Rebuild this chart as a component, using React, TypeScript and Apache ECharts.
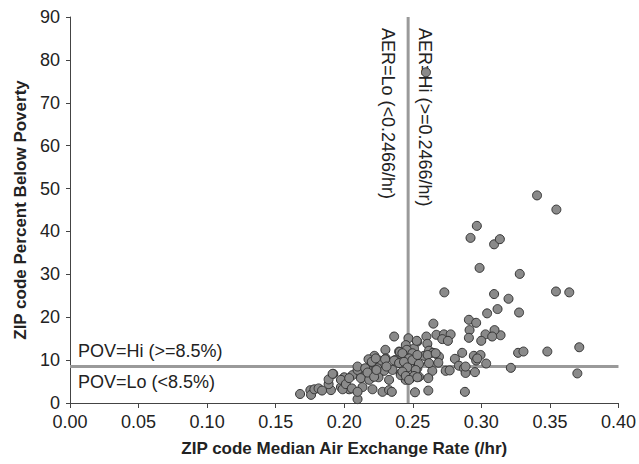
import { useEffect, useRef } from "react";
import * as echarts from "echarts";

// ZIP code median air exchange rate (/hr)
const aerRates = [
  0.2967, 0.2921, 0.3093, 0.3135, 0.2987, 0.273, 0.3093, 0.3042, 0.3118, 0.2909,
  0.3406, 0.3547, 0.328, 0.3198, 0.3275, 0.3544, 0.3641, 0.314, 0.3268, 0.3307,
  0.3481, 0.3714, 0.3215, 0.37, 0.2962, 0.265, 0.2914, 0.3096, 0.303, 0.3079,
  0.2999, 0.2909, 0.2672, 0.2727, 0.2776, 0.2715, 0.2756, 0.2599, 0.2533, 0.2468,
  0.2606, 0.2449, 0.2509, 0.24, 0.2618, 0.2647, 0.2582, 0.2691, 0.286, 0.2807,
  0.2945, 0.2994, 0.2962, 0.3035, 0.2836, 0.2873, 0.2642, 0.274, 0.2769, 0.2885,
  0.2953, 0.2613, 0.2516, 0.2613, 0.288, 0.2364, 0.2529, 0.23, 0.2405, 0.2456,
  0.2497, 0.222, 0.2303, 0.2255, 0.2371, 0.2436, 0.2509, 0.2194, 0.2608, 0.2667,
  0.2618, 0.192, 0.2, 0.206, 0.2133, 0.217, 0.2242, 0.2291, 0.225, 0.2327,
  0.2352, 0.2412, 0.2461, 0.2485, 0.2533, 0.2545, 0.2448, 0.2097, 0.1976, 0.2036,
  0.2133, 0.2206, 0.2279, 0.2327, 0.2097, 0.1903, 0.2885, 0.297, 0.1678, 0.1753,
  0.1758, 0.1782, 0.1813, 0.1838, 0.1886, 0.1886, 0.1915, 0.1976, 0.1988, 0.2012,
  0.2036, 0.2056, 0.2097, 0.2097, 0.2121, 0.2153, 0.2182, 0.217, 0.2218, 0.2235,
  0.2347, 0.2177, 0.2201, 0.223, 0.2298, 0.2308, 0.2364, 0.24, 0.2412, 0.2424,
  0.2473, 0.2436, 0.2497, 0.2533, 0.2545, 0.2461, 0.2521, 0.2424, 0.2449, 0.2509,
  0.2473, 0.2533, 0.2686, 0.2596,
];

// ZIP code percent of residents below poverty
const povertyPct = [
  41.3, 38.5, 37.0, 38.2, 31.5, 25.8, 25.4, 20.9, 21.9, 19.4,
  48.4, 45.1, 30.1, 24.3, 21.1, 26.0, 25.8, 15.8, 11.7, 12.0,
  12.0, 13.0, 8.2, 6.9, 18.7, 18.5, 17.0, 17.0, 16.0, 15.5,
  14.5, 15.2, 15.9, 16.0, 16.0, 14.9, 14.5, 15.5, 14.3, 15.1,
  13.8, 13.5, 12.7, 12.0, 12.2, 11.7, 11.0, 10.8, 11.7, 10.3,
  11.0, 11.2, 9.9, 9.2, 8.7, 8.1, 7.5, 7.5, 7.6, 7.0,
  7.2, 5.8, 2.5, 2.9, 2.6, 15.5, 14.5, 12.4, 11.9, 12.4,
  11.6, 11.0, 10.4, 9.9, 10.0, 10.2, 10.0, 9.6, 11.2, 11.6,
  9.3, 6.8, 6.0, 6.5, 6.1, 7.7, 8.1, 7.5, 6.0, 5.4,
  7.7, 6.9, 7.3, 5.8, 8.1, 6.1, 5.4, 7.7, 3.7, 3.2,
  3.7, 3.2, 2.6, 3.0, 0.9, 3.0, 8.5, 10.4, 2.1, 3.0,
  1.9, 3.2, 3.4, 2.9, 4.4, 5.5, 6.8, 5.4, 3.2, 4.4,
  5.8, 3.4, 8.5, 2.6, 5.8, 8.1, 5.4, 7.1, 6.1, 7.7,
  2.6, 10.2, 9.6, 10.4, 10.2, 8.5, 9.9, 9.3, 6.5, 11.6,
  10.4, 9.6, 10.0, 11.2, 9.1, 8.3, 7.7, 7.3, 6.3, 6.3,
  5.4, 6.0, 9.4, 77.1,
];

// Split points between the Lo / Hi groups
const aerCut = 0.2466;
const povCut = 8.5;

const aerGroupLabels = ["AER=Lo (<0.2466/hr)", "AER=Hi (>=0.2466/hr)"];
const povGroupLabels = ["POV=Hi (>=8.5%)", "POV=Lo (<8.5%)"];

const xTitle = "ZIP code Median Air Exchange Rate (/hr)";
const yTitle = "ZIP code Percent Below Poverty";

const FONT = "'Liberation Sans', Arial, Helvetica, sans-serif";

export default function App() {
  const ref = useRef<HTMLDivElement>(null);

  useEffect(() => {
    document.body.style.margin = "0";
    const chart = echarts.init(ref.current!, null, { renderer: "svg" });
    const points = aerRates.map((x, i) => [x, povertyPct[i]]);

    const axisLine = { show: true, lineStyle: { color: "#444", width: 1 } };
    const axisLabel = { color: "#222", fontSize: 18, fontFamily: FONT };
    const nameStyle = { color: "#222", fontSize: 17, fontWeight: "bold" as const, fontFamily: FONT };

    chart.setOption({
      animation: false,
      grid: { left: 70, right: 19, top: 17, bottom: 61 },
      xAxis: {
        type: "value",
        min: 0,
        max: 0.4,
        interval: 0.05,
        name: xTitle,
        nameLocation: "middle",
        nameGap: 37,
        nameTextStyle: nameStyle,
        axisLine,
        axisTick: { show: true, length: 5, lineStyle: { color: "#444" } },
        axisLabel: { ...axisLabel, margin: 10, formatter: (v: number) => v.toFixed(2) },
        splitLine: { show: false },
      },
      yAxis: {
        type: "value",
        min: 0,
        max: 90,
        interval: 10,
        name: yTitle,
        nameLocation: "middle",
        nameGap: 38,
        nameTextStyle: nameStyle,
        axisLine,
        axisTick: { show: true, length: 4, lineStyle: { color: "#444" } },
        axisLabel: { ...axisLabel, margin: 10 },
        splitLine: { show: false },
      },
      series: [
        {
          type: "line",
          data: [[aerCut, 0], [aerCut, 90]],
          symbol: "none",
          lineStyle: { color: "#9a9a9a", width: 3 },
          z: 1,
          silent: true,
        },
        {
          type: "line",
          data: [[0, povCut], [0.4, povCut]],
          symbol: "none",
          lineStyle: { color: "#9a9a9a", width: 3 },
          z: 1,
          silent: true,
        },
        {
          type: "scatter",
          data: points,
          symbol: "circle",
          symbolSize: 9,
          itemStyle: { color: "#8a8a8a", borderColor: "#333", borderWidth: 1, opacity: 1 },
          z: 3,
        },
      ],
    });

    const [cutX, top] = chart.convertToPixel({ gridIndex: 0 }, [aerCut, 90]) as number[];
    const [left, cutY] = chart.convertToPixel({ gridIndex: 0 }, [0, povCut]) as number[];
    const textStyle = { fill: "#222", fontSize: 18, fontFamily: FONT };

    chart.setOption({
      graphic: [
        {
          type: "text",
          x: cutX - 20,
          y: top + 11,
          rotation: -Math.PI / 2,
          style: { ...textStyle, text: aerGroupLabels[0], align: "left", verticalAlign: "middle" },
        },
        {
          type: "text",
          x: cutX + 17,
          y: top + 11,
          rotation: -Math.PI / 2,
          style: { ...textStyle, text: aerGroupLabels[1], align: "left", verticalAlign: "middle" },
        },
        {
          type: "text",
          x: left + 8,
          y: cutY - 16,
          style: { ...textStyle, text: povGroupLabels[0], align: "left", verticalAlign: "middle" },
        },
        {
          type: "text",
          x: left + 8,
          y: cutY + 15,
          style: { ...textStyle, text: povGroupLabels[1], align: "left", verticalAlign: "middle" },
        },
      ],
    });

    return () => chart.dispose();
  }, []);

  return <div ref={ref} style={{ width: 639, height: 464 }} />;
}
